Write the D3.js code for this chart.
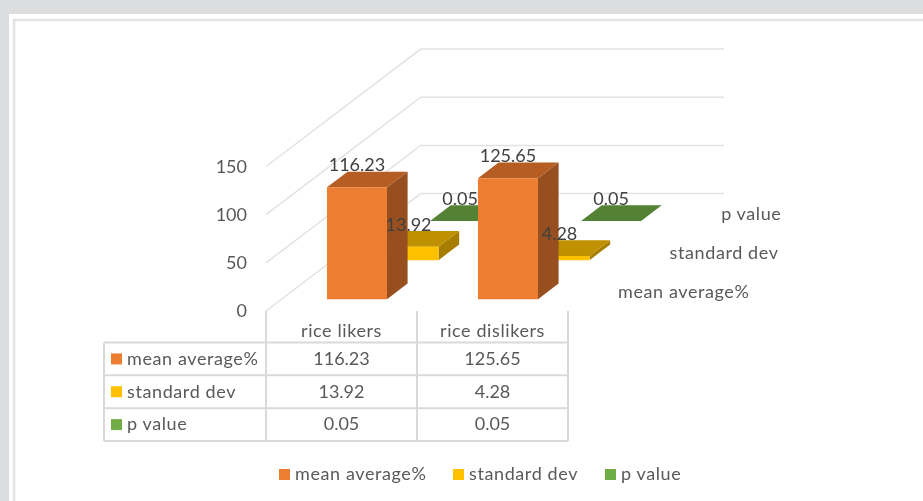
<!DOCTYPE html>
<html>
<head>
<meta charset="utf-8">
<script src="https://cdn.jsdelivr.net/npm/d3@7"></script>
<style>
  html, body { margin: 0; padding: 0; background: #fff; overflow: hidden; }
  svg { display: block; filter: blur(0.35px); }
  text { font-family: Lato, "Open Sans", sans-serif; }
  .name { letter-spacing: 0.6px; }
</style>
</head>
<body>
<div id="chart"></div>
<script>
{
  const categories = ["rice likers", "rice dislikers"];
  const seriesNames = ["mean average%", "standard dev", "p value"];
  const meanAverage = [116.23, 125.65];
  const standardDev = [13.92, 4.28];
  const pValue = [0.05, 0.05];
  const valueTicks = [0, 50, 100, 150];

  const seriesValues = [meanAverage, standardDev, pValue];
  const seriesColors = [
    { front: "#ed7d31", top: "#b65d24", side: "#974f1f" },
    { front: "#ffc000", top: "#bf9000", side: "#a67d00" },
    { front: "#70ad47", top: "#548235", side: "#47702e" }
  ];

  const width = 923;
  const height = 501;
  const FONT = 18;
  const TEXT = "#595959";
  const LABEL = "#404040";
  const GRID = "#e2e2e2";
  const TABLE = "#d9d9d9";

  const svg = d3.select("#chart").append("svg")
    .attr("width", width)
    .attr("height", height);

  // page frame
  svg.append("rect").attr("width", width).attr("height", height).attr("fill", "#dcddde");
  svg.append("rect").attr("x", 9).attr("y", 14).attr("width", width - 9).attr("height", height - 14).attr("fill", "#fff");
  svg.append("path")
    .attr("d", `M14,${height}V20H${width}`)
    .attr("fill", "none")
    .attr("stroke", "#e3e3e3")
    .attr("stroke-width", 2.5);

  const floorY = 311;
  const left = 266;
  const right = 568;

  const x = d3.scaleBand().domain(categories).range([left, right]).paddingInner(0.6026).paddingOuter(0.3013);
  const height3d = d3.scaleLinear().domain([0, 150]).range([0, 144.5]);
  const depthX = d3.scaleLinear().domain([0, 3]).range([0, 154.7]);
  const depthY = d3.scaleLinear().domain([0, 3]).range([0, -117.4]);

  const BAR_START = 0.3;
  const BAR_DEPTH = 0.4;

  // screen position: px along the floor, d slots deep, v value up
  const pt = (px, d, v) => [px + depthX(d), floorY + depthY(d) - height3d(v)];
  const poly = d3.line();

  // walls
  const gWall = svg.append("g");
  valueTicks.forEach(v => {
    const a = pt(left, 0, v);
    const b = pt(left, 3, v);
    gWall.append("path")
      .attr("d", poly([a, b, [724, b[1]]]))
      .attr("fill", "none")
      .attr("stroke", GRID)
      .attr("stroke-width", 1.5);
  });

  // value axis
  const yAxis = d3.scaleLinear().domain([0, 150]).range([floorY, floorY - height3d(150)]);
  const axisG = svg.append("g")
    .attr("transform", `translate(${left - 19},0)`)
    .call(d3.axisLeft(yAxis).tickValues(valueTicks).tickSize(0).tickPadding(0));
  axisG.select(".domain").remove();
  axisG.selectAll("text")
    .attr("font-size", FONT)
    .attr("fill", TEXT)
    .style("font-family", "Lato, sans-serif");

  // bars, back series first
  const gBars = svg.append("g");
  const labels = [];
  d3.range(seriesNames.length - 1, -1, -1).forEach(s => {
    categories.forEach((cat, c) => {
      const v = seriesValues[s][c];
      const x0 = x(cat);
      const x1 = x0 + x.bandwidth();
      const d0 = s + BAR_START;
      const d1 = d0 + BAR_DEPTH;
      const col = seriesColors[s];

      gBars.append("path").attr("fill", col.side)
        .attr("d", poly([pt(x1, d0, 0), pt(x1, d1, 0), pt(x1, d1, v), pt(x1, d0, v)]) + "Z");
      gBars.append("path").attr("fill", col.top)
        .attr("d", poly([pt(x0, d0, v), pt(x1, d0, v), pt(x1, d1, v), pt(x0, d1, v)]) + "Z");
      gBars.append("path").attr("fill", col.front)
        .attr("d", poly([pt(x0, d0, 0), pt(x1, d0, 0), pt(x1, d0, v), pt(x0, d0, v)]) + "Z");

      const top = pt(x0 + x.bandwidth() / 2, d0, v);
      labels.push({ x: top[0], y: top[1] - 22.5, text: v.toFixed(2) });
    });
  });

  svg.append("g").selectAll("text")
    .data(labels)
    .enter().append("text")
    .attr("x", d => d.x)
    .attr("y", d => d.y)
    .attr("dy", "0.35em")
    .attr("text-anchor", "middle")
    .attr("font-size", FONT)
    .attr("fill", LABEL)
    .text(d => d.text);

  // series names along the depth axis
  svg.append("g").selectAll("text")
    .data(seriesNames)
    .enter().append("text")
    .attr("class", "name")
    .attr("x", (d, i) => 618 + depthX(i))
    .attr("y", (d, i) => 292 + depthY(i) + i * 0.1)
    .attr("dy", "0.35em")
    .attr("font-size", FONT)
    .attr("fill", TEXT)
    .text(d => d);

  // data table
  const tableX = [104, left, (left + right) / 2, right];
  const rowY = d3.scaleLinear().domain([0, 3]).range([342.5, 441]);
  const gTable = svg.append("g").attr("fill", "none").attr("stroke", TABLE).attr("stroke-width", 2);

  d3.range(4).forEach(r => {
    gTable.append("line").attr("x1", tableX[0]).attr("x2", right).attr("y1", rowY(r)).attr("y2", rowY(r));
  });
  gTable.append("line").attr("x1", tableX[0]).attr("x2", tableX[0]).attr("y1", rowY(0)).attr("y2", rowY(3));
  tableX.slice(1).forEach(tx => {
    gTable.append("line").attr("x1", tx).attr("x2", tx).attr("y1", floorY).attr("y2", rowY(3));
  });

  categories.forEach(cat => {
    const cx = x(cat) + x.bandwidth() / 2;
    svg.append("text")
      .attr("class", "name")
      .attr("x", cx).attr("y", 331).attr("dy", "0.35em")
      .attr("text-anchor", "middle").attr("font-size", FONT).attr("fill", TEXT)
      .text(cat);
    seriesNames.forEach((name, s) => {
      const c = categories.indexOf(cat);
      svg.append("text")
        .attr("x", cx).attr("y", rowY(s + 0.5) - 0.5).attr("dy", "0.35em")
        .attr("text-anchor", "middle").attr("font-size", FONT).attr("fill", TEXT)
        .text(seriesValues[s][c].toFixed(2));
    });
  });

  seriesNames.forEach((name, s) => {
    const cy = rowY(s + 0.5);
    svg.append("rect")
      .attr("x", 111).attr("y", cy - 5.5).attr("width", 11).attr("height", 11)
      .attr("fill", seriesColors[s].front);
    svg.append("text")
      .attr("class", "name")
      .attr("x", 127).attr("y", cy - 0.5).attr("dy", "0.35em")
      .attr("font-size", FONT).attr("fill", TEXT)
      .text(name);
  });

  // legend
  const legendX = [279, 453, 605];
  seriesNames.forEach((name, s) => {
    svg.append("rect")
      .attr("x", legendX[s]).attr("y", 469).attr("width", 11).attr("height", 11)
      .attr("fill", seriesColors[s].front);
    svg.append("text")
      .attr("class", "name")
      .attr("x", legendX[s] + 16).attr("y", 474).attr("dy", "0.35em")
      .attr("font-size", FONT).attr("fill", TEXT)
      .text(name);
  });
}
</script>
</body>
</html>
